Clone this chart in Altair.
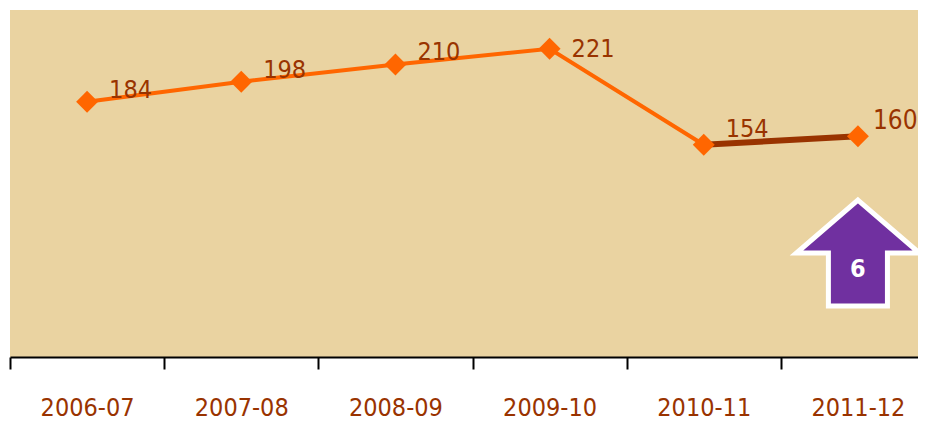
import altair as alt
import pandas as pd

# ---- data ----
years = ["2006-07", "2007-08", "2008-09", "2009-10", "2010-11", "2011-12"]
values = [184, 198, 210, 221, 154, 160]
arrow_year = "2011-12"
arrow_label = "6"

FONT = "DejaVu Sans Condensed, Liberation Sans Narrow, sans-serif"
BROWN = "#993300"
ORANGE = "#FF6600"
PURPLE = "#7030A0"

df = pd.DataFrame({"year": years, "value": values})
df_main = df.iloc[:5]
df_last = df.iloc[4:]
df_lab_a = df.iloc[[0, 1, 2]]
df_lab_b = df.iloc[[3]]
df_lab_c = df.iloc[[4]]
df_lab_d = df.iloc[[5]]
df_arrow = pd.DataFrame({"year": [arrow_year], "label": [arrow_label]})

x_scale = alt.Scale(domain=years, range=[0, 925], paddingInner=0, paddingOuter=0)
y_scale = alt.Scale(domain=[6, 248], nice=False, zero=False)

x_enc = alt.X(
    "year:N",
    scale=x_scale,
    sort=years,
    axis=alt.Axis(
        title=None,
        labelAngle=0,
        domainColor="black",
        domainWidth=2,
        tickColor="black",
        tickWidth=2,
        tickSize=12,
        tickBand="extent",
        labelFont=FONT,
        labelFontSize=25,
        labelColor=BROWN,
        labelPadding=26,
        grid=False,
    ),
)
y_enc = alt.Y("value:Q", scale=y_scale, axis=None)

line_main = alt.Chart(df_main).mark_line(color=ORANGE, strokeWidth=4).encode(x=x_enc, y=y_enc)
line_last = alt.Chart(df_last).mark_line(color=BROWN, strokeWidth=6).encode(x=x_enc, y=y_enc)
points = alt.Chart(df).mark_point(
    shape="diamond", filled=True, color=ORANGE, size=480, opacity=1
).encode(x=x_enc, y=y_enc)


def label_layer(data, dx, dy, size):
    return alt.Chart(data).mark_text(
        align="left", baseline="alphabetic", dx=dx, dy=dy, font=FONT, fontSize=size, color=BROWN
    ).encode(x=x_enc, y=y_enc, text="value:Q")


lab_a = label_layer(df_lab_a, 22, -4, 25)
lab_b = label_layer(df_lab_b, 22, 8, 25)
lab_c = label_layer(df_lab_c, 22, -8, 25)
lab_d = label_layer(df_lab_d, 15, -7, 26)

ARROW = "M0,-0.86 L1,0 L0.48,0 L0.48,0.86 L-0.48,0.86 L-0.48,0 L-1,0 Z"
arrow = alt.Chart(df_arrow).mark_point(
    shape=ARROW, filled=True, fill=PURPLE, stroke="white", strokeWidth=5,
    size=15129, opacity=1, fillOpacity=1, strokeOpacity=1
).encode(x=x_enc, y=alt.value(243))
arrow_text = alt.Chart(df_arrow).mark_text(
    font=FONT, fontSize=25, fontWeight="bold", color="white", baseline="middle", align="center"
).encode(x=x_enc, y=alt.value(259), text="label:N")

chart = alt.layer(
    line_main, line_last, points, lab_a, lab_b, lab_c, lab_d, arrow, arrow_text
).properties(
    width=908,
    height=347,
    autosize=alt.AutoSizeParams(type="none"),
    padding={"left": 2, "top": 2, "right": 0, "bottom": 66},
    background="white",
).configure_view(fill="#EAD3A1", stroke=None)

chart.save("out.html", embed_options={"renderer": "svg", "actions": False})
